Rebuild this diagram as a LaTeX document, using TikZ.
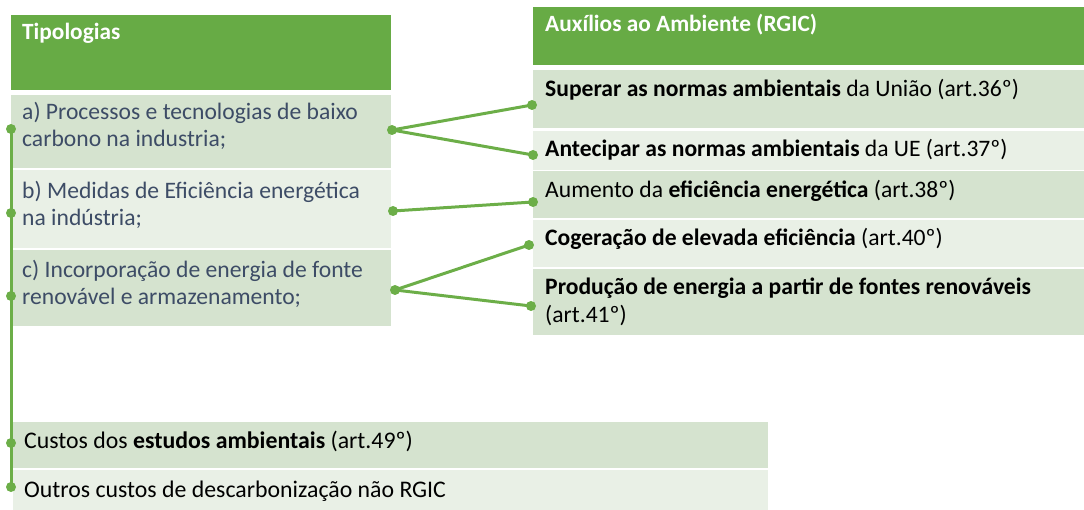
\documentclass[tikz,border=0pt]{standalone}
\usepackage{fontspec}
\setmainfont{Carlito}
\definecolor{gdark}{HTML}{67AB45}
\definecolor{glight}{HTML}{D5E3CF}
\definecolor{gpale}{HTML}{E9F0E6}
\definecolor{gline}{HTML}{6CAE48}
\definecolor{tblue}{HTML}{3D4C66}
\begin{document}
\begin{tikzpicture}[x=1pt,y=-1pt,
  box/.style={anchor=north west, inner sep=0pt, outer sep=0pt, draw=none},
  head/.style={anchor=base west, inner sep=0pt, text=white, font=\fontsize{23.3}{27}\selectfont\bfseries},
  ltxt/.style={anchor=base west, inner sep=0pt, text=tblue, align=left, font=\fontsize{23.6}{27.5}\selectfont},
  rtxt/.style={anchor=base west, inner sep=0pt, text=black, align=left, font=\fontsize{23.6}{28}\selectfont},
  btxt/.style={anchor=base west, inner sep=0pt, text=black, font=\fontsize{23.8}{28}\selectfont},
  dot/.style={circle, fill=gline, inner sep=0pt, minimum size=10pt},
  conn/.style={draw=gline, line width=3pt}]
\useasboundingbox (0,0) rectangle (1084,510);
% left column boxes
\node[box, fill=gdark, minimum width=380pt, minimum height=75pt] (lh) at (11,15) {};
\node[box, fill=glight, minimum width=380pt, minimum height=73pt] (la) at (11,95) {};
\node[box, fill=gpale, minimum width=380pt, minimum height=78pt] (lb) at (11,170) {};
\node[box, fill=glight, minimum width=380pt, minimum height=76pt] (lc) at (11,250) {};
% right column boxes
\node[box, fill=gdark, minimum width=551pt, minimum height=58pt] (rh) at (533,7) {};
\node[box, fill=glight, minimum width=551pt, minimum height=58pt] (r1) at (533,70) {};
\node[box, fill=gpale, minimum width=551pt, minimum height=39pt] (r2) at (533,131) {};
\node[box, fill=glight, minimum width=551pt, minimum height=47pt] (r3) at (533,171) {};
\node[box, fill=gpale, minimum width=551pt, minimum height=47pt] (r4) at (533,220) {};
\node[box, fill=glight, minimum width=551pt, minimum height=66pt] (r5) at (533,269) {};
% bottom boxes
\node[box, fill=glight, minimum width=755pt, minimum height=46pt] (b1) at (13,422) {};
\node[box, fill=gpale, minimum width=755pt, minimum height=40pt] (b2) at (13,470) {};
% texts (multi-line nodes: base = last line)
\node[head] (tlh) at (22,40) {Tipologias};
\node[ltxt] (tla) at (22,147) {a) Processos e tecnologias de baixo\\carbono na industria;};
\node[ltxt] (tlb) at (22,226) {b) Medidas de Eficiência energética\\na indústria;};
\node[ltxt] (tlc) at (22,305) {c) Incorporação de energia de fonte\\renovável e armazenamento;};
\node[head] (trh) at (545,32) {Auxílios ao Ambiente (RGIC)};
\node[rtxt] (tr1) at (545,97) {\textbf{Superar as normas ambientais} da União (art.36º)};
\node[rtxt] (tr2) at (545,157) {\textbf{Antecipar as normas ambientais} da UE (art.37º)};
\node[rtxt] (tr3) at (545,198) {Aumento da \textbf{eficiência energética} (art.38º)};
\node[rtxt] (tr4) at (545,246) {\textbf{Cogeração de elevada eficiência} (art.40º)};
\node[rtxt] (tr5) at (545,323) {\textbf{Produção de energia a partir de fontes renováveis}\\(art.41º)};
\node[btxt] (tb1) at (24,448) {Custos dos \textbf{estudos ambientais} (art.49º)};
\node[btxt] (tb2) at (24,497) {Outros custos de descarbonização não RGIC};
% vertical spine dots
\node[dot] (v1) at (11,129) {};
\node[dot] (v2) at (11,213) {};
\node[dot] (v3) at (11,296) {};
\node[dot] (v4) at (11,443) {};
\node[dot] (v5) at (11,487) {};
\draw[conn] (v1.center) -- (v2.center) -- (v3.center) -- (v4.center) -- (v5.center);
% connector dots
\node[dot] (da) at (392,130) {};
\node[dot] (db) at (393,211) {};
\node[dot] (dc) at (395,290) {};
\node[dot] (e1) at (532,105) {};
\node[dot] (e2) at (533,155) {};
\node[dot] (e3) at (533,202) {};
\node[dot] (e4) at (529,245) {};
\node[dot] (e5) at (531,306) {};
\draw[conn] (da.center) -- (e1.center);
\draw[conn] (da.center) -- (e2.center);
\draw[conn] (db.center) -- (e3.center);
\draw[conn] (dc.center) -- (e4.center);
\draw[conn] (dc.center) -- (e5.center);
\end{tikzpicture}
\end{document}
